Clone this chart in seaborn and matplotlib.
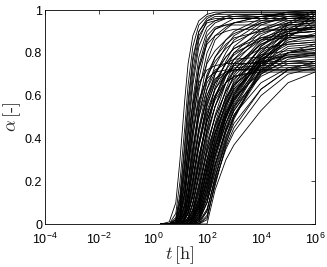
import numpy as np
import pandas as pd
import matplotlib
matplotlib.use('Agg')
import matplotlib.pyplot as plt
import seaborn as sns
from matplotlib.ticker import FixedLocator, NullLocator, FuncFormatter

time_h = [2, 4, 7, 10, 15, 20, 30, 50, 100, 200, 500, 1e3, 1e4, 1e5, 1e6]

# degree of hydration in percent, one row per curve
fast_high = [
    [0, 1, 10, 30, 58, 75, 88, 95, 98, 99, 99, 99, 99, 99, 99],
    [0, 0, 5, 20, 45, 65, 83, 93, 97, 98, 99, 99, 99, 99, 99],
    [0, 0, 3, 14, 38, 58, 78, 90, 95, 96, 96, 96, 96, 96, 96],
    [0, 0, 2, 10, 30, 50, 72, 88, 94, 95, 96, 96, 96, 96, 96],
    [0, 0, 1, 7, 24, 42, 65, 83, 92, 95, 97, 98, 98, 98, 98],
    [0, 0, 1, 5, 18, 35, 58, 78, 90, 94, 96, 97, 98, 98, 98],
    [0, 0, 0, 4, 15, 30, 52, 74, 88, 92, 93, 93, 93, 93, 93],
    [0, 0, 0, 3, 12, 25, 45, 68, 85, 91, 94, 96, 97, 98, 98],
    [0, 0, 0, 2, 9, 20, 40, 62, 80, 88, 92, 94, 97, 98, 98],
    [0, 0, 0, 1, 6, 14, 32, 55, 76, 86, 91, 94, 97, 99, 100],
]

fast_low = [
    [0, 0, 2, 10, 28, 42, 56, 66, 72, 74, 75, 75, 75, 75, 75],
    [0, 0, 0, 4, 15, 28, 44, 58, 68, 71, 72, 72, 72, 72, 72],
    [0, 0, 0, 2, 8, 18, 34, 52, 66, 72, 75, 77, 78, 78, 78],
    [0, 0, 0, 1, 5, 12, 26, 44, 60, 68, 71, 72, 73, 73, 73],
    [0, 0, 0, 0, 3, 8, 20, 38, 56, 66, 71, 73, 74, 74, 74],
    [0, 0, 0, 0, 2, 5, 14, 30, 50, 63, 70, 72, 72, 72, 72],
    [0, 0, 0, 0, 1, 3, 10, 24, 45, 60, 70, 74, 76, 76, 76],
]

medium = [
    [0, 0, 1, 6, 20, 34, 50, 64, 75, 81, 86, 89, 94, 96, 97],
    [0, 0, 0, 4, 14, 26, 42, 57, 69, 76, 82, 85, 91, 94, 95],
    [0, 0, 0, 2, 10, 20, 35, 50, 63, 71, 78, 82, 89, 93, 94],
    [0, 0, 0, 1, 6, 14, 28, 44, 58, 67, 75, 79, 87, 91, 92],
    [0, 0, 0, 1, 4, 10, 22, 38, 53, 63, 72, 77, 86, 90, 91],
    [0, 0, 0, 0, 3, 7, 17, 32, 48, 59, 69, 74, 84, 89, 90],
    [0, 0, 0, 0, 2, 5, 13, 27, 43, 55, 66, 72, 84, 90, 92],
    [0, 0, 0, 0, 1, 3, 10, 22, 38, 50, 62, 69, 82, 89, 90],
    [0, 0, 0, 0, 1, 2, 7, 18, 34, 46, 59, 66, 80, 87, 88],
    [0, 0, 0, 0, 0, 1, 5, 14, 30, 43, 56, 63, 78, 85, 86],
    [0, 0, 0, 0, 0, 1, 3, 10, 26, 39, 53, 61, 77, 84, 85],
    [0, 0, 0, 0, 0, 0, 2, 8, 22, 36, 50, 58, 75, 83, 84],
    [0, 0, 0, 0, 0, 0, 1, 5, 18, 32, 47, 56, 74, 82, 83],
    [0, 0, 0, 0, 0, 0, 0, 3, 14, 28, 44, 53, 72, 80, 81],
    [0, 0, 0, 0, 0, 0, 0, 2, 10, 24, 41, 50, 70, 80, 82],
    [0, 0, 0, 1, 5, 12, 26, 45, 63, 74, 83, 88, 95, 98, 99],
    [0, 0, 0, 0, 3, 8, 20, 38, 57, 70, 80, 86, 94, 97, 98],
    [0, 0, 0, 0, 2, 5, 14, 30, 50, 64, 76, 83, 93, 97, 98],
    [0, 0, 0, 0, 1, 3, 10, 24, 44, 59, 72, 80, 91, 96, 97],
    [0, 0, 0, 0, 0, 2, 7, 19, 40, 55, 69, 77, 90, 95, 96],
    [0, 0, 0, 0, 0, 1, 5, 15, 35, 51, 66, 75, 88, 94, 95],
    [0, 0, 0, 0, 0, 0, 3, 11, 30, 47, 63, 72, 86, 93, 94],
    [0, 0, 0, 0, 0, 0, 2, 8, 26, 43, 60, 70, 85, 92, 93],
    [0, 0, 0, 0, 0, 0, 1, 6, 22, 40, 57, 67, 83, 91, 92],
    [0, 0, 0, 0, 0, 0, 0, 4, 18, 36, 54, 64, 81, 89, 90],
    [0, 0, 0, 0, 0, 0, 0, 2, 14, 32, 50, 61, 79, 87, 88],
]

mixed = [
    [0, 0, 2, 12, 35, 55, 76, 90, 96, 98, 98, 98, 98, 98, 98],
    [0, 0, 1, 8, 26, 45, 68, 86, 95, 97, 97, 97, 97, 97, 97],
    [0, 0, 0, 3, 14, 28, 50, 72, 86, 91, 93, 94, 95, 95, 95],
    [0, 0, 1, 6, 20, 36, 56, 73, 84, 88, 90, 91, 91, 91, 91],
    [0, 0, 0, 2, 9, 19, 36, 54, 70, 78, 84, 87, 90, 91, 91],
    [0, 0, 0, 1, 5, 12, 25, 42, 60, 70, 78, 82, 87, 88, 88],
    [0, 0, 0, 0, 3, 8, 19, 36, 55, 66, 75, 80, 86, 87, 87],
    [0, 0, 0, 0, 2, 5, 13, 28, 48, 60, 70, 75, 82, 84, 85],
    [0, 0, 0, 0, 1, 3, 9, 22, 42, 55, 66, 71, 79, 81, 82],
    [0, 0, 0, 0, 0, 2, 6, 17, 36, 50, 62, 68, 77, 80, 80],
    [0, 0, 0, 0, 0, 1, 4, 12, 30, 45, 58, 65, 76, 79, 79],
    [0, 0, 0, 0, 0, 0, 2, 9, 25, 40, 55, 62, 75, 80, 82],
    [0, 0, 0, 0, 0, 0, 1, 6, 20, 36, 52, 60, 77, 85, 88],
    [0, 0, 0, 0, 0, 0, 0, 3, 16, 32, 49, 58, 78, 88, 92],
    [0, 0, 0, 0, 0, 0, 0, 1, 10, 27, 45, 55, 76, 86, 89],
    [0, 0, 0, 0, 0, 0, 0, 0, 6, 22, 40, 51, 71, 80, 84],
    [0, 0, 0, 0, 0, 0, 0, 0, 3, 19, 36, 45, 63, 72, 76],
    [0, 0, 0, 1, 4, 9, 20, 36, 52, 60, 66, 69, 71, 71, 71],
    [0, 0, 0, 0, 2, 6, 15, 30, 48, 58, 66, 69, 72, 72, 72],
    [0, 0, 0, 2, 7, 15, 30, 50, 68, 78, 86, 90, 96, 99, 99],
]

slow = [
    [0, 0, 0, 0, 0, 0, 0, 0, 0, 16, 30, 37, 53, 66, 71],
    [0, 0, 0, 0, 0, 0, 0, 0, 2, 20, 35, 43, 60, 70, 73],
    [0, 0, 0, 0, 0, 0, 0, 1, 6, 22, 38, 47, 63, 72, 74],
    [0, 0, 0, 0, 0, 0, 1, 3, 12, 28, 43, 51, 66, 73, 75],
    [0, 0, 0, 0, 0, 0, 1, 5, 17, 32, 47, 55, 69, 75, 76],
    [0, 0, 0, 0, 0, 1, 3, 9, 24, 38, 52, 59, 71, 76, 77],
    [0, 0, 0, 0, 0, 1, 4, 12, 28, 42, 56, 63, 74, 78, 79],
    [0, 0, 0, 0, 1, 2, 6, 16, 33, 46, 59, 65, 75, 79, 80],
    [0, 0, 0, 0, 0, 0, 2, 7, 20, 34, 50, 58, 72, 78, 80],
    [0, 0, 0, 0, 0, 0, 0, 2, 12, 27, 44, 53, 70, 77, 79],
]

late_rising = [
    [0, 0, 0, 0, 0, 0, 1, 4, 15, 30, 47, 57, 76, 88, 93],
    [0, 0, 0, 0, 0, 0, 0, 2, 10, 25, 43, 54, 75, 90, 96],
    [0, 0, 0, 0, 0, 1, 3, 10, 24, 37, 51, 59, 78, 91, 97],
    [0, 0, 0, 0, 0, 0, 0, 1, 7, 21, 39, 50, 72, 87, 95],
    [0, 0, 0, 0, 0, 0, 2, 7, 20, 34, 50, 60, 80, 93, 99],
    [0, 0, 0, 0, 0, 1, 4, 12, 28, 42, 56, 65, 83, 94, 100],
    [0, 0, 0, 0, 0, 0, 0, 0, 4, 18, 37, 49, 73, 89, 98],
]

# long format table for seaborn
rows = []
curve_id = 0
for group in [fast_high, fast_low, medium, mixed, slow, late_rising]:
    for curve in group:
        for t, a in zip(time_h, curve):
            rows.append({'curve': curve_id, 't': t, 'alpha': a / 100})
        curve_id += 1
df = pd.DataFrame(rows)

sns.set_style('white')
plt.rcParams['font.family'] = ['Liberation Sans', 'DejaVu Sans']
plt.rcParams['mathtext.fontset'] = 'cm'

fig = plt.figure(figsize=(3.27, 2.67), dpi=100)
ax = fig.add_axes([0.1376, 0.161, 0.8257, 0.8015])

sns.lineplot(data=df, x='t', y='alpha', units='curve', estimator=None,
             color='black', linewidth=0.6, sort=False, legend=False, ax=ax)

ax.set_xscale('log')
ax.set_xlim(1e-4, 1e6)
ax.set_ylim(0, 1)
ax.xaxis.set_major_locator(FixedLocator([1e-4, 1e-2, 1, 1e2, 1e4, 1e6]))
ax.xaxis.set_minor_locator(NullLocator())
ax.set_yticks([0, 0.2, 0.4, 0.6, 0.8, 1])
ax.yaxis.set_major_formatter(FuncFormatter(lambda v, p: '%g' % v))

for s in ax.spines.values():
    s.set_color('black')
    s.set_linewidth(0.6)
ax.tick_params(direction='in', length=3, width=0.5, top=True, right=True,
               labelsize=9, colors='black')
ax.tick_params(axis='x', pad=5.5)
ax.tick_params(axis='y', pad=2)

ax.set_xlabel(r'$t\,[\mathrm{h}]$', fontsize=13, labelpad=-2)
ax.set_ylabel(r'$\alpha\,$[-]', fontsize=13, fontfamily='cmr10', labelpad=1)

fig.savefig('out.png', dpi=100)
